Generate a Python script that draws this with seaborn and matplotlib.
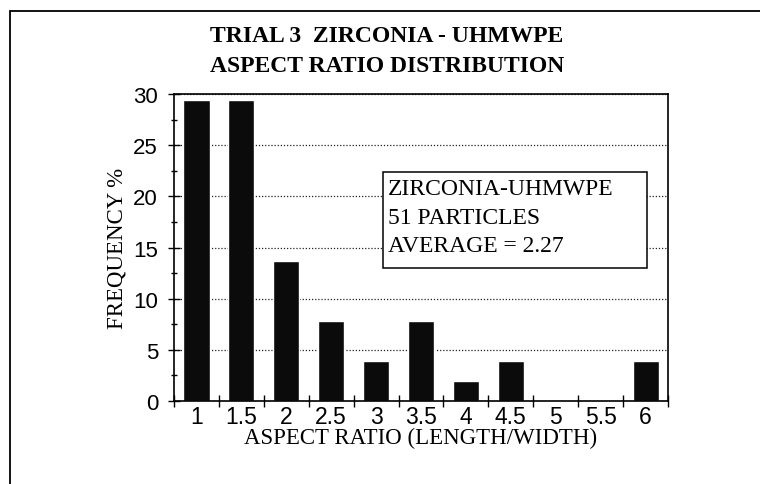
import matplotlib
matplotlib.use('Agg')
import matplotlib.pyplot as plt
import seaborn as sns
import pandas as pd
import numpy as np
from matplotlib.patches import Rectangle
from matplotlib.ticker import MultipleLocator, FixedLocator

# data
ratios = ['1', '1.5', '2', '2.5', '3', '3.5', '4', '4.5', '5', '5.5', '6']
frequency = [29.4, 29.4, 13.7, 7.8, 3.9, 7.8, 2.0, 3.9, 0.0, 0.0, 3.9]
title_lines = ['TRIAL 3  ZIRCONIA - UHMWPE', 'ASPECT RATIO DISTRIBUTION']
box_lines = ['ZIRCONIA-UHMWPE', '51 PARTICLES', 'AVERAGE = 2.27']

sns.set_style('white')
plt.rcParams['font.family'] = ['Liberation Sans', 'DejaVu Sans']
plt.rcParams['text.color'] = 'black'
plt.rcParams['axes.labelcolor'] = 'black'
serif = ['Liberation Serif', 'DejaVu Serif']

df = pd.DataFrame({'ratio': ratios, 'freq': frequency})

fig = plt.figure(figsize=(7.6, 4.85), dpi=100)
ax = fig.add_axes([0.229, 0.171, 0.650, 0.633])

sns.barplot(data=df, x='ratio', y='freq', color='#0b0b0b', saturation=1,
            width=0.58, errorbar=None, ax=ax, zorder=2)

ax.set_xlim(-0.5, 10.5)
ax.set_ylim(0, 30)
ax.set_yticks(range(0, 31, 5))
ax.yaxis.set_minor_locator(MultipleLocator(2.5))
ax.xaxis.set_minor_locator(FixedLocator(np.arange(-0.5, 11, 1)))

ax.tick_params(bottom=True, left=True)
ax.tick_params(axis='x', which='major', length=0, pad=3, labelsize=16.5, colors='black')
ax.tick_params(axis='x', which='minor', bottom=True, length=9, width=1,
               direction='inout', color='black')
ax.tick_params(axis='y', which='major', length=9, width=1, direction='inout', pad=7,
               labelsize=16, colors='black')
ax.tick_params(axis='y', which='minor', left=True, length=5, width=1,
               direction='inout', color='black')

ax.grid(axis='y', which='major', linestyle=(0, (1, 1.5)), color='#222222', lw=0.9)
ax.set_axisbelow(True)

for s in ax.spines.values():
    s.set_visible(True)
    s.set_color('black')
    s.set_linewidth(1.2)

ax.set_xlabel('ASPECT RATIO (LENGTH/WIDTH)', family=serif, fontsize=16.5, color='black')
ax.set_ylabel('FREQUENCY %', family=serif, fontsize=16.5, color='black')
ax.xaxis.set_label_coords(0.5, -0.085)
ax.yaxis.set_label_coords(-0.095, 0.5)

# info box
ax.add_patch(Rectangle((0.423, 0.433), 0.534, 0.313, transform=ax.transAxes,
                       facecolor='white', edgecolor='black', lw=1.1, zorder=3))
for i, line in enumerate(box_lines):
    ax.text(0.433, 0.674 - i * 0.0925, line, transform=ax.transAxes, va='baseline',
            ha='left', family=serif, fontsize=17, zorder=4)

# title
for i, line in enumerate(title_lines):
    fig.text(387 / 760, 1 - (42 + i * 30) / 485, line, ha='center', va='baseline',
             family=serif, fontweight='bold', fontsize=17)

# outer frame
fig.add_artist(Rectangle((10 / 760, -0.1), 1.2, 1 - 12 / 485 + 0.1,
                         transform=fig.transFigure, fill=False, ec='black', lw=1.3))

fig.savefig('out.png', dpi=100)
